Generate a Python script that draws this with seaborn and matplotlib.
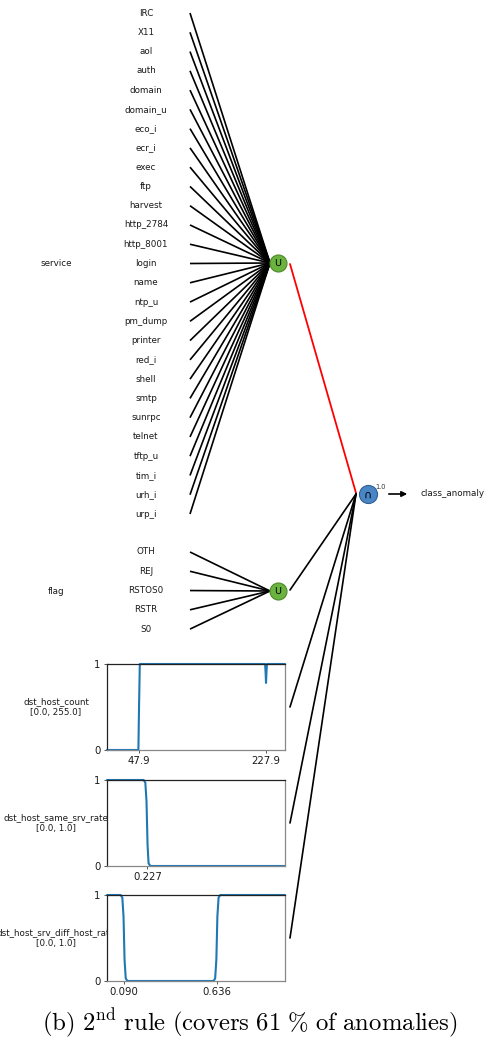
import matplotlib
matplotlib.use("Agg")
import matplotlib.pyplot as plt
import seaborn as sns
import numpy as np
import pandas as pd

sns.set_style("white")
plt.rcParams["font.family"] = ["DejaVu Sans"]
plt.rcParams["mathtext.fontset"] = "cm"

# ---- rule content ----
service_values = ["IRC", "X11", "aol", "auth", "domain", "domain_u", "eco_i", "ecr_i",
                  "exec", "ftp", "harvest", "http_2784", "http_8001", "login", "name",
                  "ntp_u", "pm_dump", "printer", "red_i", "shell", "smtp", "sunrpc",
                  "telnet", "tftp_u", "tim_i", "urh_i", "urp_i"]
flag_values = ["OTH", "REJ", "RSTOS0", "RSTR", "S0"]

numeric_features = ["dst_host_count", "dst_host_same_srv_rate", "dst_host_srv_diff_host_rate"]
feature_ranges = [(0.0, 255.0), (0.0, 1.0), (0.0, 1.0)]
feature_thresholds = [[47.9, 227.9], [0.227], [0.090, 0.636]]
threshold_labels = [["47.9", "227.9"], ["0.227"], ["0.090", "0.636"]]
feature_xlims = [(2.5, 254.8), (-0.01, 1.035), (-0.01, 1.035)]

# membership curves (x, degree)
curve_x = [
    [2.5, 47.0, 47.9, 49.0, 226.6, 227.3, 227.9, 228.5, 229.2, 254.8],
    [-0.01, 0.205, 0.215, 0.222, 0.228, 0.234, 0.245, 1.035],
    [-0.01, 0.070, 0.080, 0.087, 0.093, 0.100, 0.110,
     0.615, 0.625, 0.632, 0.638, 0.645, 0.655, 1.035],
]
curve_y = [
    [0.0, 0.0, 0.5, 1.0, 1.0, 0.9, 0.78, 0.9, 1.0, 1.0],
    [1.0, 1.0, 0.97, 0.75, 0.25, 0.03, 0.0, 0.0],
    [1.0, 1.0, 0.97, 0.75, 0.25, 0.03, 0.0,
     0.0, 0.03, 0.25, 0.75, 0.97, 1.0, 1.0],
]

target_name = "class_anomaly"
rule_weight = "1.0"
caption = r"$\mathrm{(b)\ 2^{nd}\ rule\ (covers\ 61\ \%\ of\ anomalies)}$"

# ---- figure ----
W, H = 485, 1044
fig = plt.figure(figsize=(W / 100, H / 100), dpi=100)
canvas = fig.add_axes([0, 0, 1, 1], zorder=0)
canvas.set_xlim(0, W)
canvas.set_ylim(H, 0)
canvas.axis("off")

txt_color = "#1a1a1a"
label_fs = 6.3
green = "#6ab33e"
green_edge = "#4d8a2a"
blue = "#4a86c6"
blue_edge = "#2f5f93"

label_x = 146
line_x0 = 190
union_x = 278
node_r = 8
inter_x, inter_y = 368, 494


def draw_category_group(values, y_first, name, group_y):
    step = 19.27
    for i, v in enumerate(values):
        y = y_first + i * step
        canvas.text(label_x, y, v, ha="center", va="center", fontsize=label_fs, color=txt_color)
        canvas.plot([line_x0, union_x - node_r], [y, group_y], color="black", lw=1.2,
                    solid_capstyle="butt", zorder=2)
    canvas.text(56, group_y, name, ha="center", va="center", fontsize=label_fs, color=txt_color)
    canvas.scatter([union_x], [group_y], s=150, color=green, edgecolor=green_edge,
                   linewidth=0.8, zorder=4)
    canvas.text(union_x, group_y + 0.5, "U", ha="center", va="center", fontsize=6.8,
                color="black", zorder=5)


service_y = 263
flag_y = 591
draw_category_group(service_values, 13, "service", service_y)
draw_category_group(flag_values, 552, "flag", flag_y)

# connections into the intersection node
canvas.plot([union_x + 12, inter_x - 12], [service_y + 1, inter_y - 1], color="red", lw=1.3, zorder=2)
canvas.plot([union_x + 12, inter_x - 12], [flag_y - 1, inter_y], color="black", lw=1.2, zorder=2)

axes_tops = [664, 780, 895]
axes_h = 86
ax_left, ax_right = 107, 285

for k, feat in enumerate(numeric_features):
    top = axes_tops[k]
    mid = top + axes_h / 2
    lo, hi = feature_ranges[k]
    canvas.text(56, mid, f"{feat}\n[{lo}, {hi}]", ha="center", va="center",
                fontsize=label_fs, color=txt_color, linespacing=1.15, zorder=1)
    canvas.plot([ax_right + 5, inter_x - 12], [mid, inter_y], color="black", lw=1.2, zorder=2)

    ax = fig.add_axes([ax_left / W, 1 - (top + axes_h) / H, (ax_right - ax_left) / W, axes_h / H],
                      zorder=2)
    ax.set_facecolor("white")
    df = pd.DataFrame({"x": curve_x[k], "y": curve_y[k]})
    sns.lineplot(data=df, x="x", y="y", ax=ax, color="#1f77b4", lw=1.5, clip_on=False)
    ax.set_xlim(*feature_xlims[k])
    ax.set_ylim(0, 1)
    ax.set_xticks(feature_thresholds[k])
    ax.set_xticklabels(threshold_labels[k])
    ax.set_yticks([0, 1])
    ax.set_yticklabels(["0", "1"])
    ax.set_xlabel("")
    ax.set_ylabel("")
    ax.tick_params(axis="both", labelsize=7.3, length=2.5, width=0.7, colors="#555",
                   labelcolor=txt_color, pad=2, bottom=True, left=True)
    for side in ["left", "top"]:
        ax.spines[side].set_color("#222")
        ax.spines[side].set_linewidth(0.9)
    for side in ["right", "bottom"]:
        ax.spines[side].set_color("#888")
        ax.spines[side].set_linewidth(0.9)

# intersection node and output
canvas.scatter([inter_x], [inter_y], s=170, color=blue, edgecolor=blue_edge, linewidth=0.8, zorder=4)
canvas.text(inter_x, inter_y + 0.5, "∩", ha="center", va="center", fontsize=8, color="black", zorder=5)
canvas.text(inter_x + 7, inter_y - 7, rule_weight, ha="left", va="center", fontsize=4.8,
            color="#333", zorder=5)
canvas.annotate("", xy=(410, inter_y), xytext=(386, inter_y),
                arrowprops=dict(arrowstyle="-|>", color="black", lw=1.2, mutation_scale=8))
canvas.text(421, inter_y, target_name, ha="left", va="center", fontsize=label_fs, color=txt_color)

canvas.text(250, 1023, caption, ha="center", va="center", fontsize=17.8, color="black")

fig.savefig("out.png", dpi=100)
